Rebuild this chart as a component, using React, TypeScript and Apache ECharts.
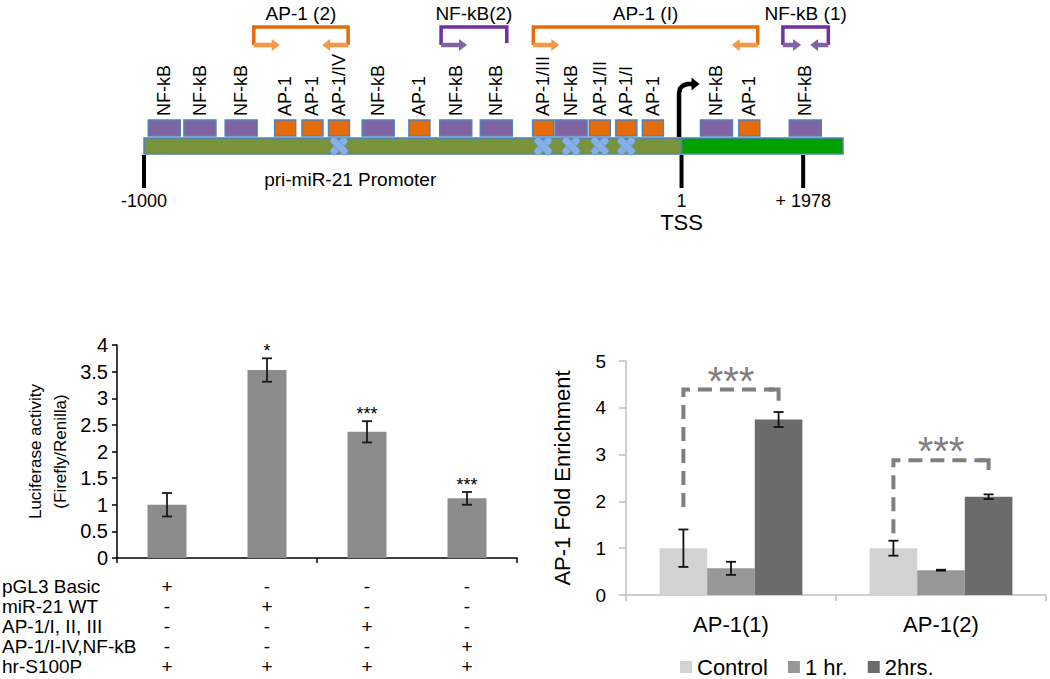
import React, { useEffect, useRef } from 'react';
import * as echarts from 'echarts';

const FONT = '"Liberation Sans", Arial, Helvetica, sans-serif';

// ---------- Promoter schematic (schematic units along the bar: 0 = -1000, 100 = right end) ----------
const siteLabels = ['NF-kB', 'NF-kB', 'NF-kB', 'AP-1', 'AP-1', 'AP-1/IV', 'NF-kB', 'AP-1', 'NF-kB', 'NF-kB', 'AP-1/III', 'NF-kB', 'AP-1/II', 'AP-1/I', 'AP-1', 'NF-kB', 'AP-1', 'NF-kB'];
const sitePositions = [2.9, 8.0, 13.9, 20.2, 24.1, 27.9, 33.5, 39.4, 44.6, 50.4, 57.1, 61.1, 65.2, 69.0, 72.8, 81.9, 86.6, 94.6];
const siteMutated = [false, false, false, false, false, true, false, false, false, false, true, true, true, true, false, false, false, false];

const regionNames = ['promoter', 'transcribed'];
const regionStart = [0, 76.9];
const regionEnd = [76.9, 100];
const promoterCaption = 'pri-miR-21 Promoter';
const promoterCaptionPosition = 29.5;

const markerLabels = ['-1000', '1', '+ 1978'];
const markerPositions = [0, 76.9, 94.3];
const tssMarkerIndex = 1;
const tssLabel = 'TSS';

const bracketNames = ['AP-1 (2)', 'NF-kB(2)', 'AP-1 (I)', 'NF-kB (1)'];
const bracketKinds = ['AP-1', 'NF-kB', 'AP-1', 'NF-kB'];
const bracketStart = [15.7, 42.5, 55.7, 91.4];
const bracketEnd = [29.2, 51.9, 87.8, 97.9];
const bracketBothArrows = [true, false, true, true];

// ---------- Luciferase assay ----------
const lucCategories = ['pGL3 Basic', 'miR-21 WT', 'AP-1/I, II, III', 'AP-1/I-IV,NF-kB'];
const lucValues = [1.0, 3.53, 2.37, 1.12];
const lucErrors = [0.22, 0.22, 0.2, 0.12];
const lucStars = ['', '*', '***', '***'];
const tableRowLabels = ['pGL3 Basic', 'miR-21 WT', 'AP-1/I, II, III', 'AP-1/I-IV,NF-kB', 'hr-S100P'];
const tableSigns = [
  ['+', '-', '-', '-'],
  ['-', '+', '-', '-'],
  ['-', '-', '+', '-'],
  ['-', '-', '-', '+'],
  ['+', '+', '+', '+'],
];

// ---------- ChIP ----------
const chipCategories = ['AP-1(1)', 'AP-1(2)'];
const chipSeriesNames = ['Control', '1 hr.', '2hrs.'];
const chipControl = [1.0, 1.0];
const chipOneHour = [0.57, 0.53];
const chipTwoHours = [3.75, 2.1];
const chipControlErr = [0.4, 0.16];
const chipOneHourErr = [0.14, 0.01];
const chipTwoHoursErr = [0.16, 0.05];
const sigStart = [1.88, 1.32];
const sigTop = [4.39, 2.88];
const sigEnd = [4.15, 2.67];
const sigLabels = ['***', '***'];

const chipColors = ['#d2d2d2', '#979797', '#6b6b6b'];
const CAT_GAP = 0.32;

export default function App() {
  const ref = useRef<HTMLDivElement>(null);

  useEffect(() => {
    if (!ref.current) return;
    const chart = echarts.init(ref.current, null, { renderer: 'svg' });

    const LUC_AXIS_Y = 558;
    const rowOffsets = tableSigns.map((_, r) => Math.round(27.5 + r * 20.2));

    // --- render functions ---
    const regionRender = (params: any, api: any) => {
      const i = params.dataIndex;
      const x0 = api.coord([regionStart[i], 0.5])[0];
      const x1 = api.coord([regionEnd[i], 0.5])[0];
      const children: any[] = [
        {
          type: 'rect',
          shape: { x: x0, y: 138, width: x1 - x0, height: 16 },
          style: { fill: i === 0 ? '#77933c' : '#00a000', stroke: '#4f81bd', lineWidth: 1.5 },
        },
      ];
      if (i === 0) {
        children.push({
          type: 'text',
          x: api.coord([promoterCaptionPosition, 0.5])[0],
          y: 179,
          style: { text: promoterCaption, fill: '#000', fontSize: 19, fontFamily: FONT, align: 'center', verticalAlign: 'middle' },
        });
      }
      return { type: 'group', children };
    };

    const siteRender = (params: any, api: any) => {
      const i = params.dataIndex;
      const cx = api.coord([api.value(0), 0.5])[0];
      const isAP = siteLabels[i].indexOf('AP-1') === 0;
      const w = isAP ? 21 : 32;
      const children: any[] = [
        {
          type: 'rect',
          shape: { x: cx - w / 2, y: 120, width: w, height: 16 },
          style: { fill: isAP ? '#e36c09' : '#8064a2', stroke: '#4f81bd', lineWidth: 1.5 },
        },
        {
          type: 'text',
          x: cx,
          y: 116,
          rotation: Math.PI / 2,
          style: { text: siteLabels[i], fill: '#000', fontSize: 18, fontFamily: FONT, align: 'left', verticalAlign: 'middle' },
        },
      ];
      if (siteMutated[i]) {
        [Math.PI / 4, -Math.PI / 4].forEach((rot) => {
          children.push({
            type: 'rect',
            x: cx,
            y: 146,
            rotation: rot,
            shape: { x: -10.5, y: -3.5, width: 21, height: 7, r: 2.5 },
            style: { fill: '#86b0e6', stroke: '#6a98d8', lineWidth: 0.8 },
          });
        });
      }
      return { type: 'group', children };
    };

    const markerRender = (params: any, api: any) => {
      const i = params.dataIndex;
      const x = api.coord([api.value(0), 0.5])[0];
      const children: any[] = [
        { type: 'line', shape: { x1: x, y1: 155, x2: x, y2: 188 }, style: { stroke: '#000', lineWidth: 4 } },
        {
          type: 'text',
          x: x,
          y: 201,
          style: { text: markerLabels[i], fill: '#000', fontSize: 18, fontFamily: FONT, align: 'center', verticalAlign: 'middle' },
        },
      ];
      if (i === tssMarkerIndex) {
        children.push({
          type: 'text',
          x: x,
          y: 222,
          style: { text: tssLabel, fill: '#000', fontSize: 22, fontFamily: FONT, align: 'center', verticalAlign: 'middle' },
        });
        children.push({
          type: 'polyline',
          shape: { points: [[x - 2.5, 137], [x - 2.5, 93], [x - 1.5, 88.5], [x + 1.5, 85.5], [x + 6, 84], [x + 11, 84]] },
          style: { stroke: '#000', lineWidth: 4.5, fill: 'none', lineJoin: 'round' },
        });
        children.push({
          type: 'polygon',
          shape: { points: [[x + 10, 77.5], [x + 18, 84], [x + 10, 90.5]] },
          style: { fill: '#000' },
        });
      }
      return { type: 'group', children };
    };

    const bracketRender = (params: any, api: any) => {
      const i = params.dataIndex;
      const xL = api.coord([bracketStart[i], 0.5])[0];
      const xR = api.coord([bracketEnd[i], 0.5])[0];
      const ap = bracketKinds[i] === 'AP-1';
      const lineColor = ap ? '#e46c0a' : '#7030a0';
      const arrowColor = ap ? '#f79646' : '#8064a2';
      const top = 27;
      const ay = 45;
      const len = Math.min(26, (xR - xL) * 0.4);
      const children: any[] = [
        {
          type: 'polyline',
          shape: { points: [[xL, ay], [xL, top], [xR, top], [xR, bracketBothArrows[i] ? ay : ay - 2]] },
          style: { stroke: lineColor, lineWidth: 3.5, fill: 'none' },
        },
        { type: 'line', shape: { x1: xL, y1: ay, x2: xL + len - 7, y2: ay }, style: { stroke: arrowColor, lineWidth: 4.5 } },
        { type: 'polygon', shape: { points: [[xL + len - 8, ay - 6], [xL + len, ay], [xL + len - 8, ay + 6]] }, style: { fill: arrowColor } },
        {
          type: 'text',
          x: (xL + xR) / 2,
          y: 13,
          style: { text: bracketNames[i], fill: '#000', fontSize: 19, fontFamily: FONT, align: 'center', verticalAlign: 'middle' },
        },
      ];
      if (bracketBothArrows[i]) {
        children.push({ type: 'line', shape: { x1: xR, y1: ay, x2: xR - len + 7, y2: ay }, style: { stroke: arrowColor, lineWidth: 4.5 } });
        children.push({ type: 'polygon', shape: { points: [[xR - len + 8, ay - 6], [xR - len, ay], [xR - len + 8, ay + 6]] }, style: { fill: arrowColor } });
      }
      return { type: 'group', children };
    };

    const lucErrRender = (params: any, api: any) => {
      const i = params.dataIndex;
      const lo = api.coord([api.value(0), api.value(1)]);
      const hi = api.coord([api.value(0), api.value(2)]);
      const x = hi[0];
      const cw = 5;
      const st = { stroke: '#1a1a1a', lineWidth: 1.8 };
      const children: any[] = [
        { type: 'line', shape: { x1: x, y1: hi[1], x2: x, y2: lo[1] }, style: st },
        { type: 'line', shape: { x1: x - cw, y1: hi[1], x2: x + cw, y2: hi[1] }, style: st },
        { type: 'line', shape: { x1: x - cw, y1: lo[1], x2: x + cw, y2: lo[1] }, style: st },
      ];
      if (lucStars[i]) {
        children.push({
          type: 'text',
          x: x,
          y: hi[1] - 7,
          style: { text: lucStars[i], fill: '#000', fontSize: 18, fontFamily: FONT, align: 'center', verticalAlign: 'middle' },
        });
      }
      return { type: 'group', children };
    };

    const chipErrRender = (params: any, api: any) => {
      const cat = api.value(0);
      const s = api.value(3);
      const band = api.size([1, 0])[0];
      const bw = (band * (1 - CAT_GAP)) / 3;
      const lo = api.coord([cat, api.value(1)]);
      const hi = api.coord([cat, api.value(2)]);
      const x = lo[0] + (s - 1) * bw;
      const cw = 5;
      const st = { stroke: '#111', lineWidth: 1.8 };
      return {
        type: 'group',
        children: [
          { type: 'line', shape: { x1: x, y1: hi[1], x2: x, y2: lo[1] }, style: st },
          { type: 'line', shape: { x1: x - cw, y1: hi[1], x2: x + cw, y2: hi[1] }, style: st },
          { type: 'line', shape: { x1: x - cw, y1: lo[1], x2: x + cw, y2: lo[1] }, style: st },
        ],
      };
    };

    const sigRender = (params: any, api: any) => {
      const i = params.dataIndex;
      const cat = api.value(0);
      const band = api.size([1, 0])[0];
      const bw = (band * (1 - CAT_GAP)) / 3;
      const c = api.coord([cat, api.value(1)]);
      const yT = api.coord([cat, api.value(2)])[1];
      const yE = api.coord([cat, api.value(3)])[1];
      const x0 = c[0] - bw;
      const x2 = c[0] + bw;
      return {
        type: 'group',
        children: [
          {
            type: 'polyline',
            shape: { points: [[x0, c[1]], [x0, yT], [x2 - 4, yT]] },
            style: { stroke: '#7f7f7f', lineWidth: 4, lineDash: [14, 8], fill: 'none' },
          },
          {
            type: 'polyline',
            shape: { points: [[x2 - 10, yT], [x2, yT], [x2, yE]] },
            style: { stroke: '#7f7f7f', lineWidth: 4, fill: 'none' },
          },
          {
            type: 'text',
            x: (x0 + x2) / 2,
            y: yT - 9,
            style: { text: sigLabels[i], fill: '#808080', fontSize: 40, fontFamily: FONT, align: 'center', verticalAlign: 'middle' },
          },
        ],
      };
    };

    const chipValues = [chipControl, chipOneHour, chipTwoHours];
    const chipErrs = [chipControlErr, chipOneHourErr, chipTwoHoursErr];
    const chipErrData: any[] = [];
    chipValues.forEach((vals, s) => {
      vals.forEach((v, c) => {
        chipErrData.push([c, v - chipErrs[s][c], v + chipErrs[s][c], s]);
      });
    });

    const option: any = {
      animation: false,
      textStyle: { fontFamily: FONT },
      grid: [
        { left: 117, top: 345, width: 400, height: 213 },
        { left: 626, top: 361, width: 420, height: 234 },
        { left: 144, top: 0, width: 699, height: 200 },
      ],
      xAxis: [
        {
          type: 'category',
          gridIndex: 0,
          data: lucCategories,
          axisLine: { lineStyle: { color: '#000', width: 1.5 } },
          axisTick: { show: true, length: 5, lineStyle: { color: '#000', width: 1.5 } },
          axisLabel: { show: false },
        },
        ...tableSigns.map((row, r) => ({
          type: 'category',
          gridIndex: 0,
          data: row,
          position: 'bottom',
          offset: rowOffsets[r],
          axisLine: { show: false },
          axisTick: { show: false },
          axisLabel: { fontSize: 19, lineHeight: 17, color: '#000', margin: 0, verticalAlign: 'middle', fontFamily: FONT },
        })),
        {
          type: 'category',
          gridIndex: 1,
          data: chipCategories,
          axisLine: { lineStyle: { color: '#bfbfbf', width: 1.5 } },
          axisTick: { show: true, length: 6, lineStyle: { color: '#bfbfbf', width: 1.5 } },
          axisLabel: { fontSize: 22, color: '#000', margin: 18, fontFamily: FONT },
        },
        { type: 'value', gridIndex: 2, min: 0, max: 100, show: false },
      ],
      yAxis: [
        {
          type: 'value',
          gridIndex: 0,
          min: 0,
          max: 4,
          interval: 0.5,
          name: 'Luciferase activity\n(Firefly/Renilla)',
          nameLocation: 'middle',
          nameGap: 44,
          nameTextStyle: { fontSize: 17, lineHeight: 25, color: '#000', fontFamily: FONT },
          axisLine: { show: true, lineStyle: { color: '#000', width: 1.5 } },
          axisTick: { show: true, length: 5, lineStyle: { color: '#000', width: 1.5 } },
          axisLabel: { fontSize: 20, color: '#000', margin: 9, fontFamily: FONT },
          splitLine: { show: false },
        },
        {
          type: 'value',
          gridIndex: 1,
          min: 0,
          max: 5,
          interval: 1,
          name: 'AP-1 Fold Enrichment',
          nameLocation: 'middle',
          nameGap: 53,
          nameTextStyle: { fontSize: 22, color: '#000', fontFamily: FONT },
          axisLine: { show: true, lineStyle: { color: '#bfbfbf', width: 1.5 } },
          axisTick: { show: true, length: 7, lineStyle: { color: '#bfbfbf', width: 1.5 } },
          axisLabel: { fontSize: 19, color: '#000', margin: 20, fontFamily: FONT },
          splitLine: { show: false },
        },
        { type: 'value', gridIndex: 2, min: 0, max: 1, show: false },
      ],
      legend: {
        data: chipSeriesNames,
        left: 680,
        top: 656,
        padding: 0,
        itemWidth: 12,
        itemHeight: 12,
        itemGap: 20,
        icon: 'rect',
        selectedMode: false,
        textStyle: { fontSize: 22, color: '#000', fontFamily: FONT },
      },
      graphic: tableRowLabels.map((label, r) => ({
        type: 'text',
        x: 2,
        y: LUC_AXIS_Y + rowOffsets[r],
        style: { text: label, fill: '#000', fontSize: 19, lineHeight: 17, fontFamily: FONT, verticalAlign: 'middle' },
      })),
      series: [
        {
          type: 'bar',
          name: 'Luciferase activity',
          xAxisIndex: 0,
          yAxisIndex: 0,
          data: lucValues,
          barWidth: 39,
          itemStyle: { color: '#8c8c8c' },
        },
        {
          type: 'custom',
          name: 'luc-error',
          xAxisIndex: 0,
          yAxisIndex: 0,
          data: lucValues.map((v, i) => [i, v - lucErrors[i], v + lucErrors[i]]),
          encode: { x: 0, y: [1, 2] },
          renderItem: lucErrRender,
          z: 10,
        },
        ...chipSeriesNames.map((name, s) => ({
          type: 'bar',
          name,
          xAxisIndex: 6,
          yAxisIndex: 1,
          data: chipValues[s],
          barGap: '0%',
          barCategoryGap: '32%',
          itemStyle: { color: chipColors[s] },
        })),
        {
          type: 'custom',
          name: 'chip-error',
          xAxisIndex: 6,
          yAxisIndex: 1,
          data: chipErrData,
          encode: { x: 0, y: [1, 2] },
          renderItem: chipErrRender,
          z: 10,
        },
        {
          type: 'custom',
          name: 'chip-sig',
          xAxisIndex: 6,
          yAxisIndex: 1,
          data: chipCategories.map((c, i) => [i, sigStart[i], sigTop[i], sigEnd[i]]),
          encode: { x: 0, y: [1, 2, 3] },
          renderItem: sigRender,
          z: 11,
        },
        {
          type: 'custom',
          name: 'regions',
          xAxisIndex: 7,
          yAxisIndex: 2,
          data: regionNames.map((n, i) => [regionStart[i], 0.5]),
          encode: { x: 0, y: 1 },
          renderItem: regionRender,
          z: 2,
        },
        {
          type: 'custom',
          name: 'sites',
          xAxisIndex: 7,
          yAxisIndex: 2,
          data: sitePositions.map((p) => [p, 0.5]),
          encode: { x: 0, y: 1 },
          renderItem: siteRender,
          z: 3,
        },
        {
          type: 'custom',
          name: 'markers',
          xAxisIndex: 7,
          yAxisIndex: 2,
          data: markerPositions.map((p) => [p, 0.5]),
          encode: { x: 0, y: 1 },
          renderItem: markerRender,
          z: 4,
        },
        {
          type: 'custom',
          name: 'brackets',
          xAxisIndex: 7,
          yAxisIndex: 2,
          data: bracketStart.map((p) => [p, 0.5]),
          encode: { x: 0, y: 1 },
          renderItem: bracketRender,
          z: 4,
        },
      ],
    };

    chart.setOption(option);
    return () => chart.dispose();
  }, []);

  return <div ref={ref} style={{ position: 'absolute', left: 0, top: 0, width: 1050, height: 679 }} />;
}
